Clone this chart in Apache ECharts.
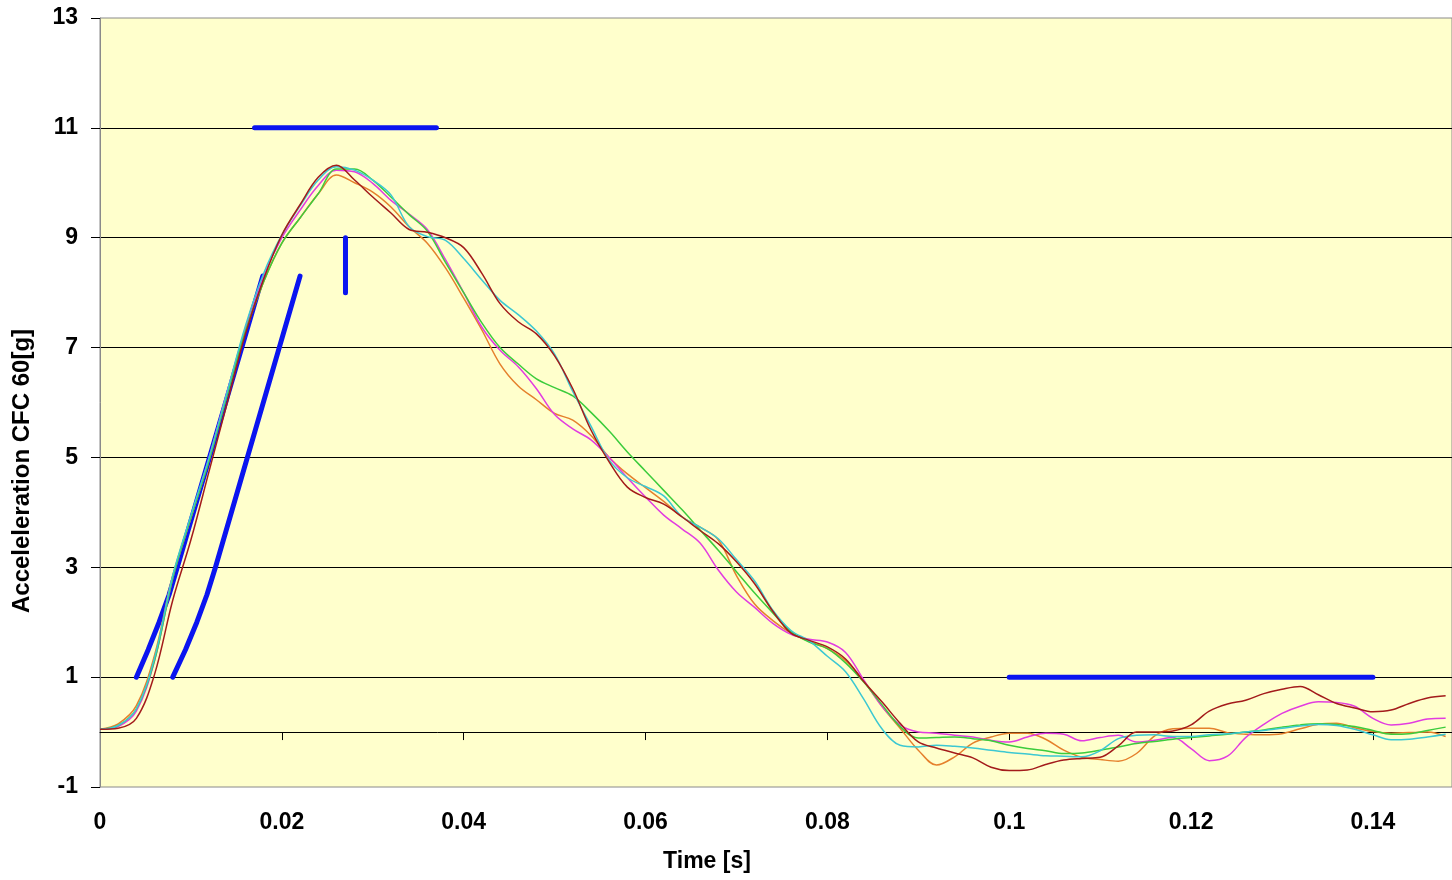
<!DOCTYPE html>
<html>
<head>
<meta charset="utf-8">
<script src="https://cdn.jsdelivr.net/npm/echarts@6/dist/echarts.min.js"></script>
<style>
  html, body { margin: 0; padding: 0; background: #ffffff; }
  #chart { width: 1452px; height: 880px; }
</style>
</head>
<body>
<div id="chart"></div>
<script>
// Sample times [s], one reading every 2 ms
const time = Array.from({ length: 75 }, (_, i) => i * 2 / 1000);

// Sled acceleration traces, CFC 60 filtered [g]
const runDarkRed = [
  0.05, 0.07, 0.25, 1.05, 2.4, 3.5, 4.75, 6.0, 7.25, 8.25,
  9.05, 9.6, 10.1, 10.32, 10.05, 9.74, 9.45, 9.15, 9.1, 9.0,
  8.82, 8.35, 7.8, 7.47, 7.25, 6.85, 6.25, 5.5, 4.92, 4.46,
  4.27, 4.15, 3.92, 3.67, 3.43, 3.1, 2.7, 2.2, 1.8, 1.67,
  1.55, 1.33, 0.92, 0.55, 0.16, -0.18, -0.29, -0.38, -0.47, -0.64,
  -0.7, -0.69, -0.59, -0.51, -0.48, -0.46, -0.25, 0.0, 0.0, 0.02,
  0.13, 0.38, 0.51, 0.58, 0.7, 0.78, 0.83, 0.68, 0.52, 0.44,
  0.37, 0.4, 0.52, 0.62, 0.66
];
const runCyan = [
  0.05, 0.12, 0.42, 1.35, 2.85, 3.95, 5.0, 6.2, 7.4, 8.35,
  9.05, 9.58, 10.05, 10.29, 10.23, 10.05, 9.78, 9.2, 9.02, 8.95,
  8.62, 8.23, 7.86, 7.6, 7.3, 6.88, 6.2, 5.57, 4.95, 4.63,
  4.47, 4.3, 3.92, 3.73, 3.52, 3.14, 2.75, 2.22, 1.85, 1.66,
  1.38, 1.1, 0.6, 0.06, -0.24, -0.27, -0.24, -0.26, -0.29, -0.33,
  -0.37, -0.4, -0.43, -0.44, -0.45, -0.34, -0.12, -0.06, -0.05, -0.08,
  -0.08, -0.05, -0.03, 0.0, 0.03, 0.07, 0.11, 0.14, 0.12, 0.05,
  -0.05, -0.14, -0.13, -0.09, -0.04
];
const runGreen = [
  0.05, 0.12, 0.42, 1.3, 2.8, 3.9, 4.95, 6.15, 7.3, 8.2,
  8.9, 9.36, 9.8, 10.25, 10.25, 10.05, 9.74, 9.42, 9.12, 8.55,
  8.0, 7.45, 7.0, 6.7, 6.43, 6.27, 6.12, 5.82, 5.48, 5.1,
  4.75, 4.4, 4.05, 3.68, 3.31, 2.92, 2.53, 2.17, 1.83, 1.64,
  1.52, 1.26, 0.91, 0.5, 0.1, -0.11, -0.1, -0.09, -0.12, -0.16,
  -0.24, -0.3, -0.34, -0.39, -0.38, -0.33, -0.27, -0.21, -0.17, -0.13,
  -0.1, -0.07, -0.04, 0.0, 0.04, 0.09, 0.13, 0.15, 0.14, 0.1,
  0.03, -0.04, -0.03, 0.03, 0.09
];
const runMagenta = [
  0.05, 0.1, 0.38, 1.3, 2.8, 3.9, 5.0, 6.2, 7.35, 8.3,
  9.0, 9.5, 9.95, 10.23, 10.2, 9.99, 9.68, 9.43, 9.15, 8.6,
  8.0, 7.37, 6.95, 6.65, 6.25, 5.78, 5.52, 5.32, 5.0, 4.63,
  4.28, 3.95, 3.7, 3.44, 2.95, 2.55, 2.27, 1.98, 1.78, 1.69,
  1.64, 1.45, 0.95, 0.47, 0.13, 0.0, -0.02, -0.06, -0.09, -0.15,
  -0.18, -0.09, -0.02, -0.04, -0.16, -0.1, -0.06, -0.18, -0.15, -0.1,
  -0.3, -0.52, -0.44, -0.1, 0.14, 0.34, 0.47, 0.55, 0.54, 0.47,
  0.25, 0.13, 0.16, 0.24, 0.25
];
const runOrange = [
  0.05, 0.15, 0.48, 1.4, 2.85, 3.9, 4.95, 6.15, 7.3, 8.2,
  8.9, 9.36, 9.8, 10.14, 10.0, 9.83, 9.56, 9.2, 8.9, 8.45,
  7.9, 7.32, 6.7, 6.3, 6.05, 5.8, 5.68, 5.4, 5.0, 4.7,
  4.45, 4.2, 3.92, 3.73, 3.5, 2.85, 2.33, 2.03, 1.8, 1.65,
  1.52, 1.3, 0.93, 0.47, 0.07, -0.33, -0.6, -0.45, -0.2, -0.09,
  -0.02, -0.02, -0.13, -0.33, -0.46, -0.5, -0.53, -0.39, -0.07, 0.06,
  0.07, 0.07, -0.01, -0.04, -0.05, -0.03, 0.06, 0.14, 0.16, 0.08,
  0.01, -0.02, -0.01, 0.0, -0.08
];

// Corridor limits [time s, acceleration g]
const corridorRampUpper = [[0.004, 1], [0.0053, 1.5], [0.0065, 2], [0.0076, 2.5], [0.0085, 3], [0.0179, 8.3]];
const corridorRampLower = [[0.008, 1], [0.0094, 1.5], [0.01065, 2], [0.01176, 2.5], [0.0127, 3], [0.022, 8.3]];
const corridorPeak = [[0.017, 11], [0.037, 11]];
const corridorMark = [[0.027, 9], [0.027, 8]];
const corridorTail = [[0.1, 1], [0.14, 1]];

// Axis ticks
const timeTicks = [0, 0.02, 0.04, 0.06, 0.08, 0.1, 0.12, 0.14];
const accelMin = -1, accelMax = 13, accelStep = 2;

const FONT = "'Liberation Sans', Arial, Helvetica, sans-serif";
const TIME_MAX = 0.1487;

const traces = [
  { name: 'orange', data: runOrange, color: '#e5802c' },
  { name: 'magenta', data: runMagenta, color: '#e23ce0' },
  { name: 'green', data: runGreen, color: '#3ccc3c' },
  { name: 'cyan', data: runCyan, color: '#3cc8d2' },
  { name: 'darkred', data: runDarkRed, color: '#a31b1b' }
];

const corridorStyle = { color: '#0a14f0', width: 5, cap: 'round', join: 'round' };
const corridor = (name, data) => ({
  name, type: 'line', data, xAxisIndex: 0, yAxisIndex: 0,
  smooth: false, showSymbol: false, symbol: 'none',
  lineStyle: corridorStyle, z: 2, silent: true
});

const series = [
  corridor('rampUpper', corridorRampUpper),
  corridor('rampLower', corridorRampLower),
  corridor('peak', corridorPeak),
  corridor('mark', corridorMark),
  corridor('tail', corridorTail)
].concat(traces.map(tr => ({
  name: tr.name, type: 'line', xAxisIndex: 0, yAxisIndex: 0,
  data: time.map((t, i) => [t, tr.data[i]]),
  smooth: 0.35, showSymbol: false, symbol: 'none',
  lineStyle: { color: tr.color, width: 1.5 }, z: 3, silent: true
})));

const chart = echarts.init(document.getElementById('chart'), null, { renderer: 'canvas' });
chart.setOption({
  animation: false,
  backgroundColor: '#ffffff',
  grid: {
    left: 100, top: 18, right: 0, bottom: 93,
    show: true, backgroundColor: '#ffffcc', borderColor: '#8a8a8a', borderWidth: 1
  },
  xAxis: [
    {
      type: 'value', min: 0, max: TIME_MAX, position: 'bottom',
      axisLine: { show: false, onZero: false },
      axisTick: { show: false },
      splitLine: { show: false },
      axisLabel: {
        customValues: timeTicks,
        formatter: v => String(+v.toFixed(2)),
        color: '#000', fontFamily: FONT, fontWeight: 'bold', fontSize: 23, margin: 24
      }
    },
    {
      type: 'value', min: 0, max: TIME_MAX, position: 'bottom',
      axisLine: { show: true, onZero: true, onZeroAxisIndex: 0, lineStyle: { color: '#000', width: 1 } },
      axisTick: { show: true, customValues: timeTicks.slice(1), length: 8, lineStyle: { color: '#000', width: 1 } },
      axisLabel: { show: false },
      splitLine: { show: false }
    }
  ],
  yAxis: {
    type: 'value', min: accelMin, max: accelMax, interval: accelStep,
    axisLine: { show: true, onZero: false, lineStyle: { color: '#8a8a8a' } },
    axisTick: { show: true, length: 9, lineStyle: { color: '#000' } },
    axisLabel: { color: '#000', fontFamily: FONT, fontWeight: 'bold', fontSize: 23, margin: 22 },
    splitLine: { show: true, showMinLine: false, showMaxLine: false, lineStyle: { color: '#000', width: 1 } }
  },
  graphic: [
    {
      type: 'text', x: 22, y: 471, rotation: Math.PI / 2, silent: true,
      style: {
        text: 'Acceleleration CFC 60[g]', fill: '#000',
        font: "bold 24px " + FONT, align: 'center', verticalAlign: 'middle'
      }
    },
    {
      type: 'text', x: 707, y: 862, silent: true,
      style: {
        text: 'Time [s]', fill: '#000',
        font: "bold 23px " + FONT, align: 'center', verticalAlign: 'middle'
      }
    }
  ],
  series
});
</script>
</body>
</html>
